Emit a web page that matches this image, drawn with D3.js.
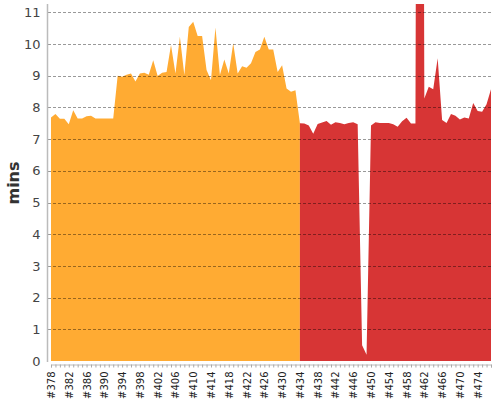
<!DOCTYPE html>
<html>
<head>
<meta charset="utf-8">
<script src="https://cdn.jsdelivr.net/npm/d3@7"></script>
<style>
  body { margin: 0; background: #fff; }
  svg { font-family: "DejaVu Sans", sans-serif; }
</style>
</head>
<body>
<svg class="buildChart"></svg>
<script>
// build numbers and minutes per build
var firstBuild = 378;
var lastBuild = 477;
var splitBuild = 434; // builds from here on are red

var minutes = [
  7.68, 7.79, 7.64, 7.64, 7.47, 7.91, 7.65, 7.65, 7.72, 7.74, // 378-387
  7.65, 7.65, 7.65, 7.65, 7.65, 9.00, 8.97, 9.03, 9.07, 8.82, // 388-397
  9.07, 9.09, 9.03, 9.49, 8.99, 9.09, 9.12, 9.97, 9.07, 10.23, // 398-407
  9.02, 10.54, 10.70, 10.25, 10.25, 9.18, 8.86, 10.52, 9.02, 9.51, // 408-417
  9.07, 10.02, 9.07, 9.30, 9.25, 9.39, 9.75, 9.83, 10.23, 9.83, // 418-427
  9.83, 9.12, 9.33, 8.60, 8.49, 8.54, 7.50, 7.49, 7.43, 7.17, // 428-437
  7.48, 7.52, 7.57, 7.45, 7.53, 7.51, 7.47, 7.51, 7.53, 7.47, // 438-447
  0.50, 0.20, 7.43, 7.53, 7.51, 7.51, 7.51, 7.47, 7.39, 7.56, // 448-457
  7.67, 7.49, 7.49, 60.0, 8.28, 8.65, 8.57, 9.55, 7.60, 7.51, // 458-467
  7.79, 7.74, 7.62, 7.68, 7.65, 8.14, 7.89, 7.86, 8.10, 8.57  // 468-477
];

var yTicks = [0, 1, 2, 3, 4, 5, 6, 7, 8, 9, 10, 11];
var labelStep = 4;

var screen = { width: 500, height: 400 };

var svg = d3.select(".buildChart")
            .attr("width", screen.width)
            .attr("height", screen.height);

var data = minutes.map(function(m, i) {
  return { build: firstBuild + i, mins: m };
});

var xScale = d3.scaleLinear()
               .domain([firstBuild, lastBuild])
               .range([51, 491]);

var yScale = d3.scaleLinear()
               .domain([0, 11])
               .range([361, 12.3]);

var plotTop = 4;

svg.append("clipPath")
   .attr("id", "plotClip")
   .append("rect")
   .attr("x", 47)
   .attr("y", plotTop)
   .attr("width", 450)
   .attr("height", 361 - plotTop + 1);

var area = d3.area()
             .x(function(d) { return xScale(d.build); })
             .y0(yScale(0))
             .y1(function(d) { return yScale(d.mins); });

var areas = svg.append("g").attr("clip-path", "url(#plotClip)");

// orange part runs up to the first red build so there is no gap
areas.append("path")
     .datum(data.filter(function(d) { return d.build <= splitBuild; }))
     .attr("fill", "#ffab33")
     .attr("d", area);

areas.append("path")
     .datum(data.filter(function(d) { return d.build >= splitBuild; }))
     .attr("fill", "#d73535")
     .attr("d", area);

// dashed grid lines on top of the areas
svg.append("g")
   .selectAll("line")
   .data(yTicks.slice(1))
   .enter()
   .append("line")
   .attr("x1", 48)
   .attr("x2", 491)
   .attr("y1", function(d) { return Math.round(yScale(d)) + 0.5; })
   .attr("y2", function(d) { return Math.round(yScale(d)) + 0.5; })
   .attr("stroke", "#000")
   .attr("stroke-opacity", 0.4)
   .attr("stroke-dasharray", "3,2");

// y-axis
var yAxis = d3.axisLeft(yScale)
              .tickValues(yTicks)
              .tickSize(0)
              .tickPadding(7);

var yG = svg.append("g")
            .attr("transform", "translate(47.5,0)")
            .call(yAxis);
yG.select(".domain").remove();
yG.selectAll("text")
  .attr("font-size", 13)
  .attr("font-family", "DejaVu Sans")
  .attr("fill", "#444");

svg.append("line")
   .attr("x1", 47.5).attr("x2", 47.5)
   .attr("y1", plotTop).attr("y2", 362)
   .attr("stroke", "#bbb")
   .attr("stroke-width", 1.5);

// x-axis: a tick for every build, a label every fourth
var allBuilds = d3.range(firstBuild, lastBuild + 1);

var xAxis = d3.axisBottom(xScale)
              .tickValues(allBuilds)
              .tickSize(3)
              .tickFormat(function(d) {
                return (d - firstBuild) % labelStep == 0 ? "#" + d : "";
              });

var xG = svg.append("g")
            .attr("transform", "translate(0,364.5)")
            .call(xAxis);
xG.select(".domain").attr("stroke", "#bbb");
xG.selectAll(".tick line").attr("stroke", "#aaa");
xG.selectAll("text")
  .attr("font-size", 10)
  .attr("font-family", "DejaVu Sans")
  .attr("fill", "#222")
  .attr("transform", "rotate(-90)")
  .attr("text-anchor", "end")
  .attr("dy", "0.35em")
  .attr("x", -7)
  .attr("y", 0);

// y label
svg.append("text")
   .attr("transform", "translate(19,183) rotate(-90)")
   .attr("text-anchor", "middle")
   .attr("font-size", 16)
   .attr("font-weight", "bold")
   .attr("fill", "#333")
   .text("mins");
</script>
</body>
</html>
